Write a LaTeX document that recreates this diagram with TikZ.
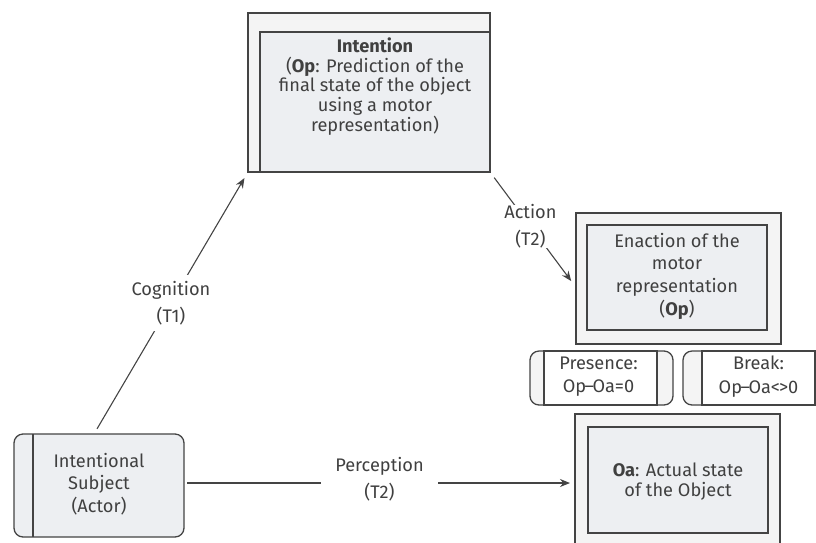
\documentclass[tikz,border=0pt]{standalone}
\usepackage{fontspec}
\setmainfont{Fira Sans}
\usetikzlibrary{calc,arrows.meta}
\definecolor{ln}{HTML}{444444}
\definecolor{txt}{HTML}{404040}
\definecolor{outerfill}{HTML}{F4F4F4}
\definecolor{innerfill}{HTML}{EDEFF2}
\newcommand{\fsz}[1]{\fontsize{18.2}{#1}\selectfont}
\newcommand{\dsh}{\kern-1.5pt--\kern-1.5pt}
\tikzset{
  box/.style={draw=ln, line width=1.3pt, rectangle, inner sep=0pt, outer sep=0pt, anchor=north west},
  outerbox/.style={box, fill=outerfill},
  innerbox/.style={box, fill=innerfill},
  roundbox/.style={box, rounded corners=9pt},
  txt/.style={text=txt, align=center, inner sep=0pt},
  conn/.style={draw=ln, line width=1.1pt},
  arr/.style={conn, -{Stealth[length=10pt,width=8pt]}},
  lbl/.style={fill=white, text=txt, align=center, inner xsep=5pt, font=\fsz{26.5}},
}
\begin{document}
\begin{tikzpicture}[x=1pt,y=-1pt]
\useasboundingbox (0,0) rectangle (816,542);
\clip (0,0) rectangle (816,542);

% Intention
\node[outerbox, minimum width=242pt, minimum height=159pt] (intOut) at (248,13) {};
\node[innerbox, minimum width=230pt, minimum height=140pt] (intIn) at (260,32) {};
\node[txt, font=\fsz{19.6}] (intTxt) at ($(intIn.center)+(0,-15.5)$)
  {\textbf{Intention}\\(\textbf{Op}: Prediction of the\\final state of the object\\using a motor\\representation)};

% Enaction
\node[outerbox, minimum width=205pt, minimum height=131pt] (actOut) at (576,213) {};
\node[innerbox, minimum width=180pt, minimum height=105pt] (actIn) at (587,225) {};
\node[txt, font=\fsz{22.7}] (actTxt) at ($(actIn.center)+(0,-1.5)$) {Enaction of the\\motor\\representation\\(\textbf{Op})};

% Presence / Break
\node[roundbox, fill=outerfill, minimum width=143pt, minimum height=54pt] (pres) at (530,351) {};
\node[box, fill=white, minimum width=113pt, minimum height=54pt] (presIn) at (544,351) {};
\node[txt, font=\fsz{23.5}] (presTxt) at ($(presIn.center)+(-2,-1.5)$) {Presence:\\Op\dsh Oa=0};

\node[roundbox, fill=outerfill, minimum width=147pt, minimum height=54pt] (brk) at (683,351) {};
\node[box, fill=white, minimum width=113pt, minimum height=54pt] (brkIn) at (702,351) {};
\node[txt, font=\fsz{23.5}] (brkTxt) at ($(brkIn.center)+(0,-1.5)$) {Break:\\Op\dsh Oa<\kern-1pt>0};

% Actual state
\node[outerbox, minimum width=205pt, minimum height=150pt] (oaOut) at (575,414) {};
\node[innerbox, minimum width=180pt, minimum height=106pt] (oaIn) at (588,427) {};
\node[txt, font=\fsz{20}] (oaTxt) at ($(oaIn.center)+(0,2)$) {\textbf{Oa}: Actual state\\of the Object};

% Subject
\node[roundbox, fill=innerfill, minimum width=170pt, minimum height=103pt] (subj) at (14,434) {};
\draw[conn, line width=1.3pt] ($(subj.north west)+(19,0)$) -- ($(subj.south west)+(19,0)$);
\node[txt, font=\fsz{22.5}] (subjTxt) at ($(subj.center)+(0,-1.5)$) {Intentional\\Subject\\(Actor)};

% Connectors
\draw[arr, shorten <=6pt, shorten >=7pt] ($(subj.north west)+(80,0)$) -- (intOut.south west)
  node[lbl, pos=0.5, inner ysep=6pt] (cogLbl) {Cognition\\(T1)};
\draw[arr, shorten <=7pt, shorten >=8pt] (intOut.south east) -- ($(actOut.west)+(0,9)$)
  node[lbl, pos=0.47, inner ysep=0pt, inner xsep=2pt] (actLbl) {Action\\(T2)};
\draw[arr, shorten <=3pt, shorten >=5pt] ($(subj.east)+(0,-2.5)$) -- (oaOut.west |- {$(subj.east)+(0,-2.5)$})
  node[lbl, pos=0.5, inner xsep=14pt, inner ysep=0pt, yshift=4pt] (perLbl) {Perception\\(T2)};
\end{tikzpicture}
\end{document}
